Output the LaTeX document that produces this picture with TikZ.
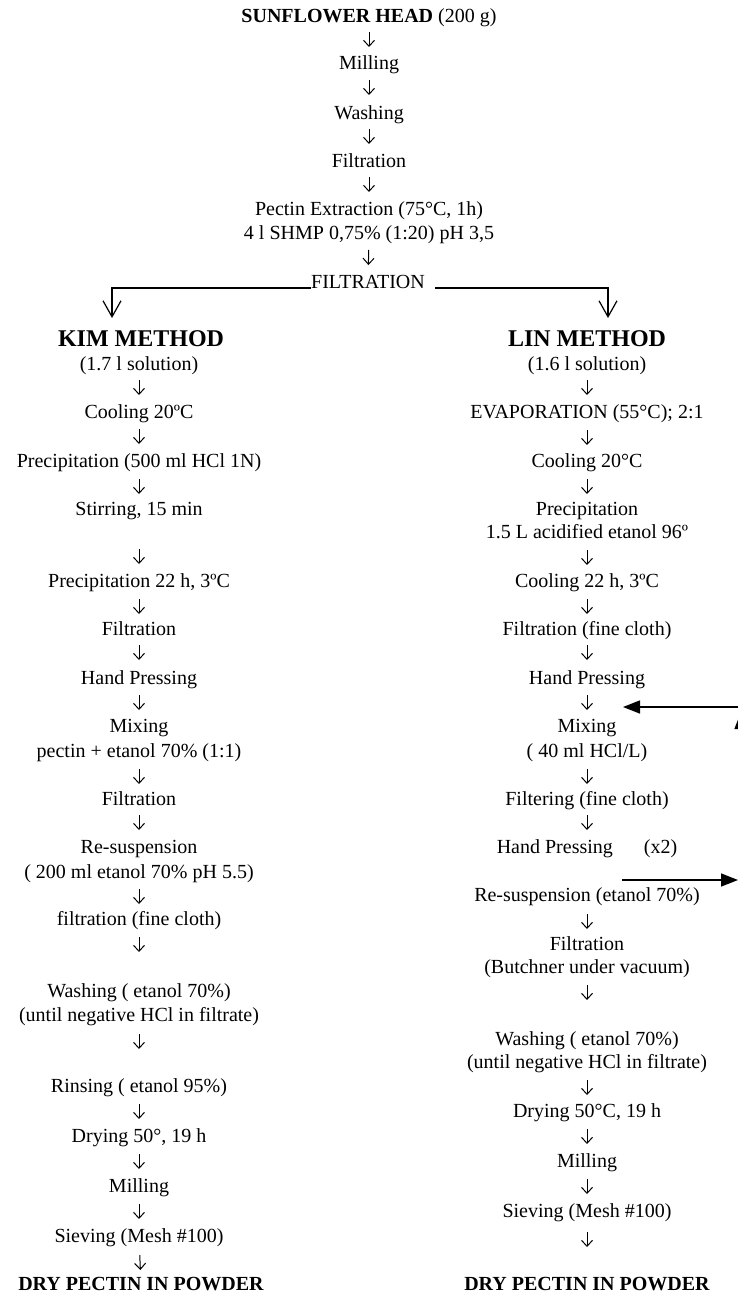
\documentclass[tikz,border=0pt]{standalone}
\usepackage{fontspec}
\setmainfont{Liberation Serif}
\usetikzlibrary{arrows.meta}
\begin{document}
\begin{tikzpicture}[x=1pt,y=-1pt,
  t/.style={inner sep=0pt, text height=14pt, text depth=4pt, font=\fontsize{20}{24}\selectfont},
  tb/.style={t, font=\fontsize{20}{24}\selectfont\bfseries},
  hd/.style={inner sep=0pt, text height=17pt, text depth=4pt, font=\fontsize{24}{28}\selectfont\bfseries},
  dn/.style 2 args={-{Straight Barb[length=6pt,width=11pt]}, line width=1pt, shorten <=#1pt, shorten >=#2pt},
  big/.style={-{Straight Barb[length=16pt,width=18pt]}, line width=1.2pt},
  fb/.style={-{Triangle[length=17pt,width=13pt]}, line width=1.5pt}]
\useasboundingbox (0,0) rectangle (738,1297);
\clip (0,0) rectangle (738,1297);
% top column
\node[t] (n0) at (369,18) {\textbf{SUNFLOWER HEAD} (200 g)};
\node[t] (n1) at (369,65) {Milling};
\node[t] (n2) at (369,115) {Washing};
\node[t] (n3) at (369,163) {Filtration};
\node[t] (n4a) at (369,211) {Pectin Extraction (75°C, 1h)};
\node[t] (n4b) at (369,235) {4 l SHMP 0,75\% (1:20) pH 3,5};
\node[t] (filt) at (368,283) {FILTRATION};
\draw[dn={14}{18}] (n0.center) -- (n1.center);
\draw[dn={15}{20}] (n1.center) -- (n2.center);
\draw[dn={14}{19}] (n2.center) -- (n3.center);
\draw[dn={14}{19}] (n3.center) -- (n4a.center);
\draw[dn={15}{18}] (n4b.center) -- (filt.center);
\coordinate (kimin) at (112,318);
\coordinate (linin) at (608,318);
\draw[big] ([yshift=-5pt]filt.west) -| (kimin);
\draw[big] ([xshift=10pt,yshift=-5pt]filt.east) -| (linin);
% KIM column
\node[hd] (kim) at (141,340) {KIM METHOD};
\node[t] (k1) at (139,365) {(1.7 l solution)};
\node[t] (k2) at (139,413) {Cooling 20ºC};
\node[t] (k3) at (139,462) {Precipitation (500 ml HCl 1N)};
\node[t] (k4) at (139,510) {Stirring, 15 min};
\node[t] (k5) at (139,582) {Precipitation 22 h, 3ºC};
\node[t] (k6) at (139,630) {Filtration};
\node[t] (k7) at (139,679) {Hand Pressing};
\node[t] (k8a) at (139,727) {Mixing};
\node[t] (k8b) at (139,752) {pectin + etanol 70\% (1:1)};
\node[t] (k9) at (139,800) {Filtration};
\node[t] (k10a) at (139,848) {Re-suspension};
\node[t] (k10b) at (139,873) {( 200 ml etanol 70\% pH 5.5)};
\node[t] (k11) at (139,920) {filtration (fine cloth)};
\node[t] (k12a) at (139,992) {Washing ( etanol 70\%)};
\node[t] (k12b) at (139,1016) {(until negative HCl in filtrate)};
\node[t] (k13) at (139,1087) {Rinsing ( etanol 95\%)};
\node[t] (k14) at (139,1137) {Drying 50°, 19 h};
\node[t] (k15) at (139,1187) {Milling};
\node[t] (k16) at (139,1237) {Sieving (Mesh \#100)};
\node[tb] (k17) at (141,1285) {DRY PECTIN IN POWDER};
\draw[dn={15}{18}] (k1.center) -- (k2.center);
\draw[dn={16}{18}] (k2.center) -- (k3.center);
\draw[dn={17}{16}] (k3.center) -- (k4.center);
\draw[dn={39}{18}] (k4.center) -- (k5.center);
\draw[dn={17}{16}] (k5.center) -- (k6.center);
\draw[dn={15}{19}] (k6.center) -- (k7.center);
\draw[dn={16}{17}] (k7.center) -- (k8a.center);
\draw[dn={17}{16}] (k8b.center) -- (k9.center);
\draw[dn={15}{18}] (k9.center) -- (k10a.center);
\draw[dn={16}{16}] (k10b.center) -- (k11.center);
\draw[dn={17}{40}] (k11.center) -- (k12a.center);
\draw[dn={18}{38}] (k12b.center) -- (k13.center);
\draw[dn={17}{18}] (k13.center) -- (k14.center);
\draw[dn={17}{18}] (k14.center) -- (k15.center);
\draw[dn={17}{18}] (k15.center) -- (k16.center);
\draw[dn={18}{15}] (k16.center) -- (k17.center);
% LIN column
\node[hd] (lin) at (587,340) {LIN METHOD};
\node[t] (l1) at (587,365) {(1.6 l solution)};
\node[t] (l2) at (587,413) {EVAPORATION (55°C); 2:1};
\node[t] (l3) at (587,462) {Cooling 20°C};
\node[t] (l4a) at (587,510) {Precipitation};
\node[t] (l4b) at (587,533) {1.5 L acidified etanol 96º};
\node[t] (l5) at (587,582) {Cooling 22 h, 3ºC};
\node[t] (l6) at (587,630) {Filtration (fine cloth)};
\node[t] (l7) at (587,679) {Hand Pressing};
\node[t] (l8a) at (587,727) {Mixing};
\node[t] (l8b) at (587,752) {( 40 ml HCl/L)};
\node[t] (l9) at (587,800) {Filtering (fine cloth)};
\node[t] (l10) at (587,848) {Hand Pressing\hspace{31pt}(x2)};
\node[t] (l11) at (587,896) {Re-suspension (etanol 70\%)};
\node[t] (l12a) at (587,945) {Filtration};
\node[t] (l12b) at (587,968) {(Butchner under vacuum)};
\node[t] (l13a) at (587,1040) {Washing ( etanol 70\%)};
\node[t] (l13b) at (587,1063) {(until negative HCl in filtrate)};
\node[t] (l14) at (587,1112) {Drying 50°C, 19 h};
\node[t] (l15) at (587,1162) {Milling};
\node[t] (l16) at (587,1212) {Sieving (Mesh \#100)};
\node[tb] (l17) at (587,1285) {DRY PECTIN IN POWDER};
\draw[dn={15}{18}] (l1.center) -- (l2.center);
\draw[dn={17}{17}] (l2.center) -- (l3.center);
\draw[dn={17}{16}] (l3.center) -- (l4a.center);
\draw[dn={17}{17}] (l4b.center) -- (l5.center);
\draw[dn={17}{16}] (l5.center) -- (l6.center);
\draw[dn={15}{19}] (l6.center) -- (l7.center);
\draw[dn={16}{17}] (l7.center) -- (l8a.center);
\draw[dn={17}{16}] (l8b.center) -- (l9.center);
\draw[dn={15}{18}] (l9.center) -- (l10.center);
\draw[dn={18}{16}] (l11.center) -- (l12a.center);
\draw[dn={17}{40}] (l12b.center) -- (l13a.center);
\draw[dn={17}{17}] (l13b.center) -- (l14.center);
\draw[dn={17}{18}] (l14.center) -- (l15.center);
\draw[dn={17}{18}] (l15.center) -- (l16.center);
\draw[dn={20}{38}] (l16.center) -- (l17.center);
% recycle loop (cut by the right edge)
\coordinate (fbA) at (622,880);
\coordinate (fbB) at (738,880);
\coordinate (fbC) at (741,900);
\coordinate (fbD) at (741,712);
\coordinate (fbE) at (760,707);
\coordinate (fbF) at (623,707);
\draw[fb] (fbA) -- (fbB);
\draw[fb] (fbC) -- (fbD);
\draw[fb] (fbE) -- (fbF);
\end{tikzpicture}
\end{document}
